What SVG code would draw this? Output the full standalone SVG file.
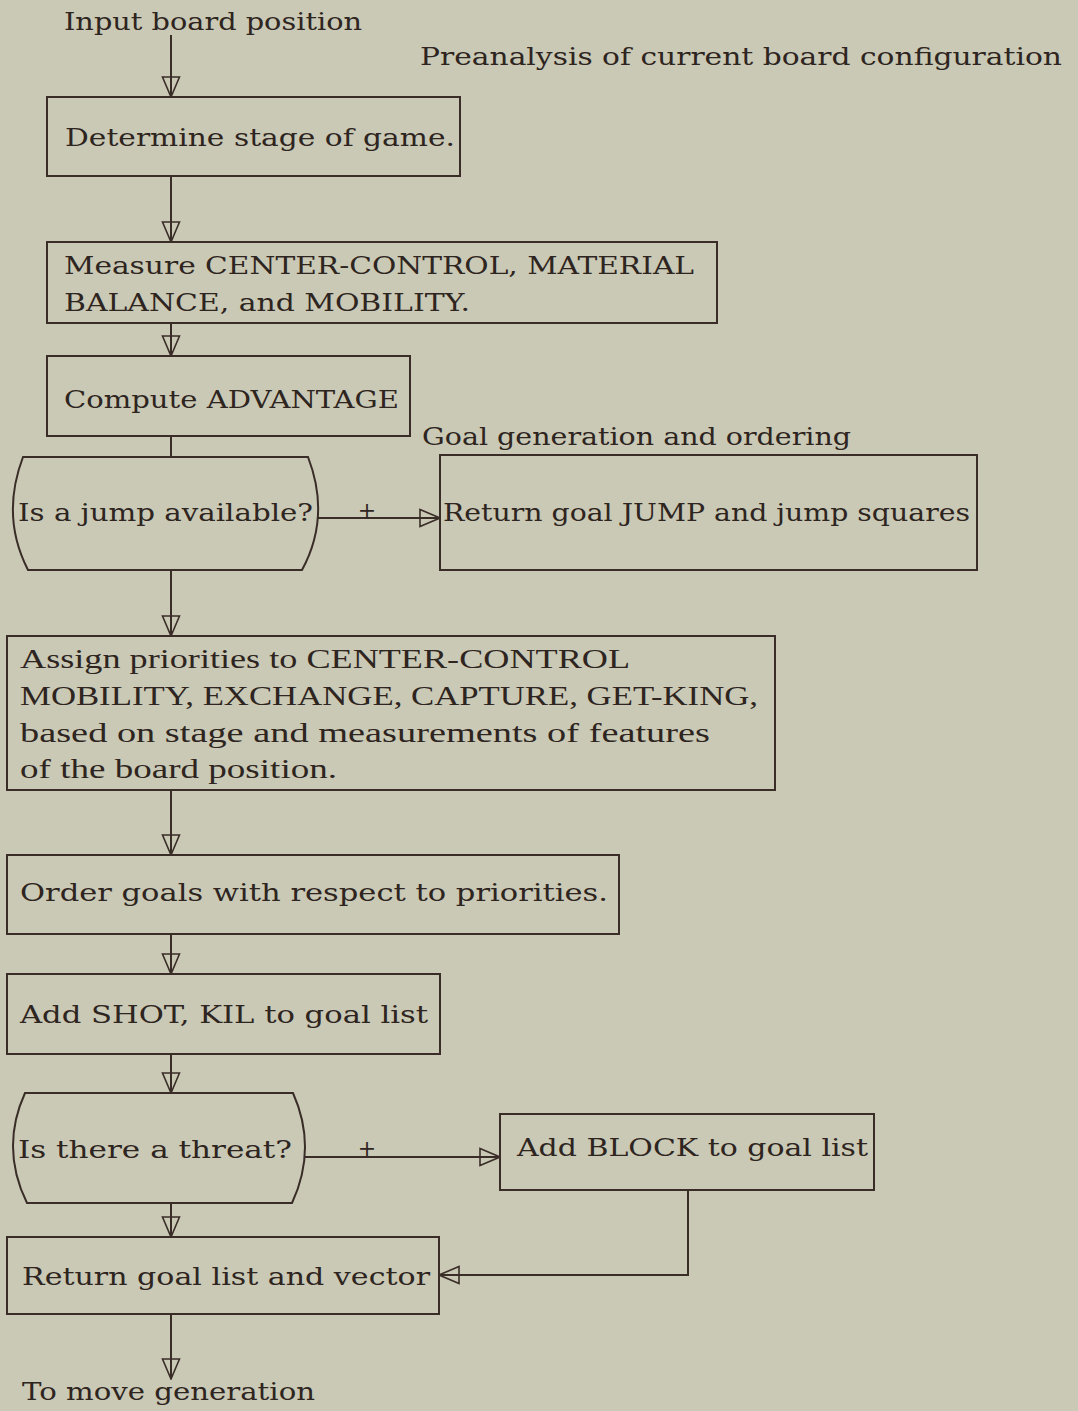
<svg xmlns="http://www.w3.org/2000/svg" width="1078" height="1411" viewBox="0 0 1078 1411">
<style>
.bg{fill:#c9c9b5}
.box{fill:none;stroke:#3a2d28;stroke-width:2}
.ln{fill:none;stroke:#3a2d28;stroke-width:2}
.arr{marker-end:url(#ah)}
text{font-family:"DejaVu Serif","Liberation Serif",serif;font-size:25px;fill:#2e2420}
.cond{font-family:"Liberation Serif","DejaVu Serif",serif;font-size:27px}
.plus{font-size:22px}
</style>
<defs>
<marker id="ah" markerUnits="userSpaceOnUse" viewBox="0 0 22 20" markerWidth="22" markerHeight="20" refX="21" refY="10" orient="auto">
<path d="M1,1.5 L21,10 L1,18.5 Z" fill="none" stroke="#3a2d28" stroke-width="1.6"/>
</marker>
</defs>
<rect class="bg" x="0" y="0" width="1078" height="1411"/>

<g id="connectors">
<line class="ln arr" x1="171" y1="35" x2="171" y2="97"/>
<line class="ln arr" x1="171" y1="176" x2="171" y2="242"/>
<line class="ln arr" x1="171" y1="323" x2="171" y2="356"/>
<line class="ln" x1="171" y1="436" x2="171" y2="457"/>
<line class="ln arr" x1="171" y1="570" x2="171" y2="636"/>
<line class="ln arr" x1="171" y1="790" x2="171" y2="855"/>
<line class="ln arr" x1="171" y1="934" x2="171" y2="974"/>
<line class="ln arr" x1="171" y1="1054" x2="171" y2="1093"/>
<line class="ln arr" x1="171" y1="1203" x2="171" y2="1237"/>
<line class="ln arr" x1="171" y1="1314" x2="171" y2="1379"/>
<line class="ln arr" x1="318" y1="518" x2="440" y2="518"/>
<text class="plus" x="367" y="518" text-anchor="middle">+</text>
<line class="ln arr" x1="305" y1="1157" x2="500" y2="1157"/>
<text class="plus" x="367" y="1156" text-anchor="middle">+</text>
<polyline class="ln arr" points="688,1190 688,1275 439,1275"/>
</g>

<g id="label-input"><text x="64" y="30" textLength="298" lengthAdjust="spacingAndGlyphs">Input board position</text></g>
<g id="label-preanalysis"><text x="420" y="65" textLength="642" lengthAdjust="spacingAndGlyphs">Preanalysis of current board configuration</text></g>
<g id="label-goalgen"><text x="422" y="445" textLength="429" lengthAdjust="spacingAndGlyphs">Goal generation and ordering</text></g>
<g id="label-output"><text x="22" y="1400" textLength="293" lengthAdjust="spacingAndGlyphs">To move generation</text></g>

<g id="node-stage">
<rect class="box" x="47" y="97" width="413" height="79"/>
<text x="65" y="146" textLength="390" lengthAdjust="spacingAndGlyphs">Determine stage of game.</text>
</g>

<g id="node-measure">
<rect class="box" x="47" y="242" width="670" height="81"/>
<text x="64" y="274" textLength="630" lengthAdjust="spacingAndGlyphs">Measure CENTER-CONTROL, MATERIAL</text>
<text x="64" y="311" textLength="406" lengthAdjust="spacingAndGlyphs">BALANCE, and MOBILITY.</text>
</g>

<g id="node-advantage">
<rect class="box" x="47" y="356" width="363" height="80"/>
<text x="64" y="408" textLength="335" lengthAdjust="spacingAndGlyphs">Compute ADVANTAGE</text>
</g>

<g id="node-jump">
<path class="box" d="M23,457 L308,457 Q331,516.5 302,570 L28,570 Q0.5,516.5 23,457 Z"/>
<text x="18" y="521" textLength="295" lengthAdjust="spacingAndGlyphs">Is a jump available?</text>
</g>

<g id="node-returnjump">
<rect class="box" x="440" y="455" width="537" height="115"/>
<text x="443" y="521" textLength="527" lengthAdjust="spacingAndGlyphs">Return goal JUMP and jump squares</text>
</g>

<g id="node-priorities">
<rect class="box" x="7" y="636" width="768" height="154"/>
<text class="cond" x="20" y="668" textLength="610" lengthAdjust="spacingAndGlyphs">Assign priorities to CENTER-CONTROL</text>
<text class="cond" x="20" y="705" textLength="738" lengthAdjust="spacingAndGlyphs">MOBILITY, EXCHANGE, CAPTURE, GET-KING,</text>
<text class="cond" x="20" y="742" textLength="690" lengthAdjust="spacingAndGlyphs">based on stage and measurements of features</text>
<text class="cond" x="20" y="778" textLength="317" lengthAdjust="spacingAndGlyphs">of the board position.</text>
</g>

<g id="node-order">
<rect class="box" x="7" y="855" width="612" height="79"/>
<text x="20" y="901" textLength="588" lengthAdjust="spacingAndGlyphs">Order goals with respect to priorities.</text>
</g>

<g id="node-shot">
<rect class="box" x="7" y="974" width="433" height="80"/>
<text x="20" y="1023" textLength="408" lengthAdjust="spacingAndGlyphs">Add SHOT, KIL to goal list</text>
</g>

<g id="node-threat">
<path class="box" d="M25,1093 L293,1093 Q317.5,1148 292,1203 L27,1203 Q0,1148 25,1093 Z"/>
<text x="18" y="1158" textLength="274" lengthAdjust="spacingAndGlyphs">Is there a threat?</text>
</g>

<g id="node-block">
<rect class="box" x="500" y="1114" width="374" height="76"/>
<text x="517" y="1156" textLength="351" lengthAdjust="spacingAndGlyphs">Add BLOCK to goal list</text>
</g>

<g id="node-return">
<rect class="box" x="7" y="1237" width="432" height="77"/>
<text x="22" y="1285" textLength="408" lengthAdjust="spacingAndGlyphs">Return goal list and vector</text>
</g>
</svg>
